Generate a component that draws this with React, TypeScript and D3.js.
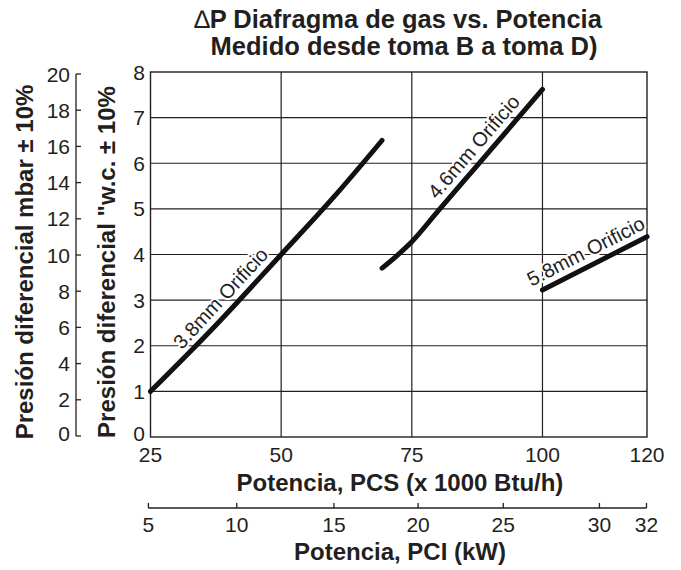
import React from "react";
import * as d3 from "d3";

const pcsTicks = [25, 50, 75, 100, 120];
const wcTicks = [0, 1, 2, 3, 4, 5, 6, 7, 8];
const mbarTicks = [0, 2, 4, 6, 8, 10, 12, 14, 16, 18, 20];
const pciTicks = [5, 10, 15, 20, 25, 30, 32];
const pciPositionsAsPcs = [24.6, 41.5, 60.1, 76.2, 92.5, 110.9, 119.9];

const orifice38 = [
  [25, 1.0],
  [37.5, 2.45],
  [50, 4.0],
  [60, 5.25],
  [69.3, 6.5],
];
const orifice46 = [
  [69.3, 3.7],
  [72, 3.96],
  [75, 4.28],
  [80, 4.95],
  [87.5, 5.95],
  [95, 6.95],
  [100, 7.62],
];
const orifice58 = [
  [100, 3.22],
  [120, 4.39],
];

const seriesList = [
  { name: "3.8mm Orificio", data: orifice38, labelAt: 40.5 },
  { name: "4.6mm Orificio", data: orifice46, labelAt: 89 },
  { name: "5.8mm Orificio", data: orifice58, labelAt: 109.6 },
];

const FONT = "'Liberation Sans', Arial, Helvetica, sans-serif";
const INK = "#231f20";

export default function App() {
  const W = 681;
  const H = 570;
  const x = d3.scaleLinear().domain([25, 120]).range([150.5, 647]);
  const y = d3.scaleLinear().domain([0, 8]).range([437, 72]);
  const yMbar = d3.scaleLinear().domain([0, 20]).range([436, 74]);
  const xPci = d3.scaleLinear().domain(pciTicks).range(pciPositionsAsPcs.map((v) => x(v)));

  const line = d3
    .line<number[]>()
    .x((d) => x(d[0]))
    .y((d) => y(d[1]))
    .curve(d3.curveMonotoneX);

  const interp = (data: number[][], xv: number) => {
    for (let i = 0; i < data.length - 1; i++) {
      const [x0, y0] = data[i];
      const [x1, y1] = data[i + 1];
      if (xv >= x0 && xv <= x1) {
        const t = (xv - x0) / (x1 - x0);
        const ang = (Math.atan2(y(y1) - y(y0), x(x1) - x(x0)) * 180) / Math.PI;
        return { px: x(xv), py: y(y0 + t * (y1 - y0)), ang };
      }
    }
    return { px: 0, py: 0, ang: 0 };
  };

  const x0 = x(25);
  const x1 = x(120);
  const yTop = y(8);
  const yBot = y(0);
  const mbarX = 76;
  const pciY = 508;

  return (
    <svg width={W} height={H} style={{ display: "block", position: "absolute", left: 0, top: 0 }} fontFamily={FONT}>
      <rect width={W} height={H} fill="#fff" />
      {/* title */}
      <text x={398} y={28} textAnchor="middle" fontWeight="bold" fontSize={25.5} fill={INK}>
        <tspan fontWeight="normal">∆</tspan>P Diafragma de gas vs. Potencia
      </text>
      <text x={404} y={55} textAnchor="middle" fontWeight="bold" fontSize={25.5} fill={INK}>
        Medido desde toma B a toma D)
      </text>

      {/* grid */}
      {wcTicks.slice(1, -1).map((t) => (
        <line key={"h" + t} x1={x0} x2={x1} y1={y(t)} y2={y(t)} stroke={INK} strokeWidth={1.2} />
      ))}
      {pcsTicks.slice(1, -1).map((t) => (
        <line key={"v" + t} x1={x(t)} x2={x(t)} y1={yTop} y2={yBot} stroke={INK} strokeWidth={1.2} />
      ))}
      <rect x={x0} y={yTop} width={x1 - x0} height={yBot - yTop} fill="none" stroke={INK} strokeWidth={1.4} />

      {/* labels with white halo to break gridlines */}
      {seriesList.map((s) => {
        const p = interp(s.data, s.labelAt);
        return (
          <text
            key={"l" + s.name}
            transform={`translate(${p.px},${p.py}) rotate(${p.ang})`}
            dy={-8}
            textAnchor="middle"
            fontSize={20}
            fill={INK}
            stroke="#fff"
            strokeWidth={4}
            paintOrder="stroke"
          >
            {s.name}
          </text>
        );
      })}

      {/* curves */}
      {seriesList.map((s) => (
        <path key={s.name} d={line(s.data) || ""} fill="none" stroke="#111" strokeWidth={5} strokeLinecap="round" />
      ))}

      {/* w.c. axis labels */}
      {wcTicks.map((t) => (
        <text key={"wc" + t} x={145} y={y(t) - (t === 0 ? 4 : 0)} dy="0.36em" textAnchor="end" fontSize={21} fill={INK}>
          {t}
        </text>
      ))}

      {/* mbar axis */}
      <line x1={mbarX} x2={mbarX} y1={yMbar(0)} y2={yMbar(20)} stroke={INK} strokeWidth={1.3} />
      {mbarTicks.map((t) => (
        <g key={"mb" + t}>
          <line x1={mbarX} x2={mbarX + 5} y1={yMbar(t)} y2={yMbar(t)} stroke={INK} strokeWidth={1.3} />
          <text x={70} y={yMbar(t) - (t === 0 ? 3 : 0)} dy="0.36em" textAnchor="end" fontSize={21} fill={INK}>
            {t}
          </text>
        </g>
      ))}

      {/* PCS tick labels */}
      {pcsTicks.map((t) => (
        <text key={"pcs" + t} x={x(t)} y={462} textAnchor="middle" fontSize={21} fill={INK}>
          {t}
        </text>
      ))}
      <text x={400} y={491} textAnchor="middle" fontWeight="bold" fontSize={24} fill={INK}>
        Potencia, PCS (x 1000 Btu/h)
      </text>

      {/* PCI axis */}
      <line x1={xPci(5)} x2={xPci(32)} y1={pciY} y2={pciY} stroke={INK} strokeWidth={1.3} />
      {pciTicks.map((t) => (
        <g key={"pci" + t}>
          <line x1={xPci(t)} x2={xPci(t)} y1={pciY} y2={pciY - 5} stroke={INK} strokeWidth={1.3} />
          <text x={xPci(t)} y={532} textAnchor="middle" fontSize={21} fill={INK}>
            {t}
          </text>
        </g>
      ))}
      <text x={400} y={560} textAnchor="middle" fontWeight="bold" fontSize={24} fill={INK}>
        Potencia, PCI (kW)
      </text>

      {/* y axis titles */}
      <text transform={`translate(33,262) rotate(-90)`} textAnchor="middle" fontWeight="bold" fontSize={24} fill={INK}>
        Presión diferencial mbar ± 10%
      </text>
      <text transform={`translate(115,262) rotate(-90)`} textAnchor="middle" fontWeight="bold" fontSize={24} fill={INK}>
        Presión diferencial "w.c. ± 10%
      </text>
    </svg>
  );
}
